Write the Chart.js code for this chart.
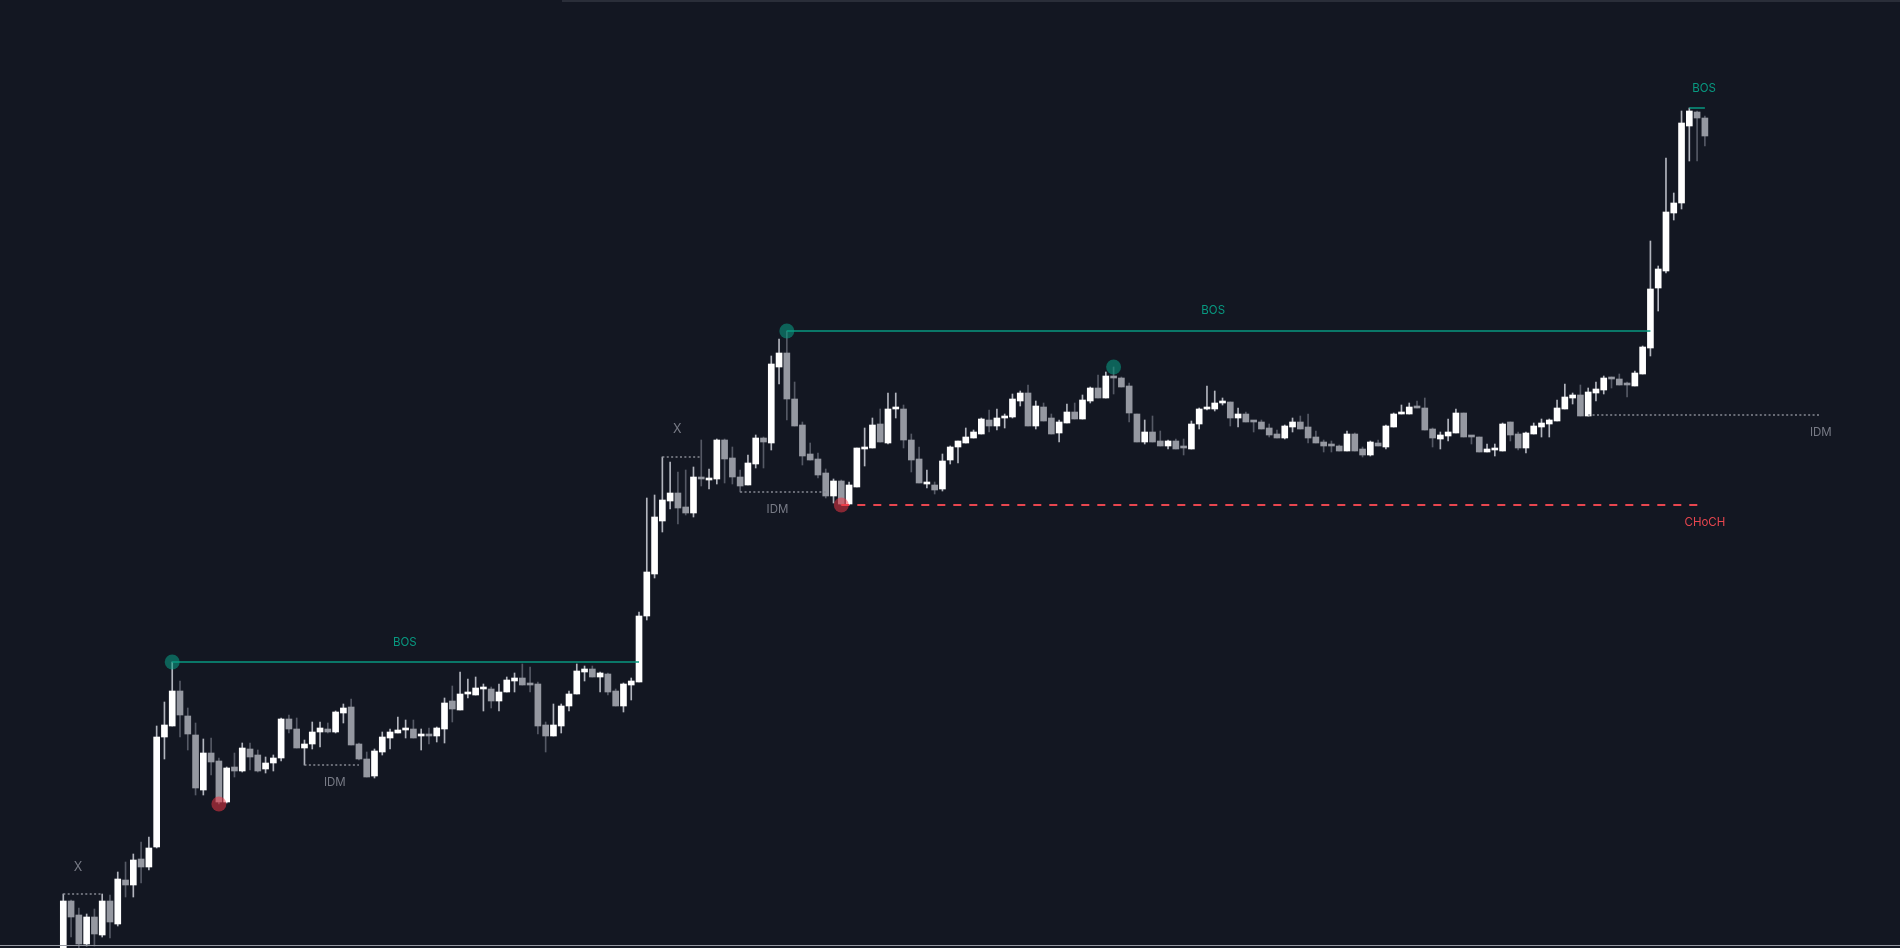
<!DOCTYPE html>
<html>
<head>
<meta charset="utf-8">
<title>Market structure</title>
<script src="https://cdn.jsdelivr.net/npm/chart.js@4.4.1/dist/chart.umd.min.js"></script>
<style>
  html, body { margin: 0; padding: 0; background: #131722; overflow: hidden; }
  #wrap { position: relative; width: 1900px; height: 948px; }
  #topLine { position: absolute; left: 562px; right: 0; top: 0; height: 2px; background: #2a2e39; }
  #bottomLine { position: absolute; left: 0; right: 0; top: 945px; height: 1px; background: #9598a1; }
</style>
</head>
<body>
<div id="wrap">
  <canvas id="chart" width="1900" height="948"></canvas>
  <div id="topLine"></div>
  <div id="bottomLine"></div>
</div>
<script>
// Candle data, one entry per bar (left to right)
const opens = [
  45, 99, 85, 56, 83, 65, 99, 76, 120, 115,
  141, 133, 153, 263, 274, 309, 284, 265, 210, 247,
  239, 198, 233, 229, 251, 245, 231, 237, 242, 281,
  271, 252, 256, 268, 271, 268, 287, 293, 256, 241,
  224, 248, 262, 267, 270, 271, 264, 265, 264, 271,
  299, 290, 306, 305, 311, 311, 299, 308, 319, 322,
  317, 316, 275, 264, 274, 294, 306, 328, 331, 323,
  326, 309, 294, 315, 318, 384, 426, 479, 499, 507,
  493, 487, 522, 520, 521, 560, 542, 523, 515, 536,
  562, 557, 633, 647, 601, 575, 546, 541, 527, 504,
  519, 496, 513, 551, 552, 576, 557, 591, 591, 560,
  541, 516, 515, 511, 540, 553, 557, 562, 566, 580,
  574, 582, 583, 599, 607, 574, 593, 582, 567, 577,
  588, 581, 599, 612, 602, 624, 622, 614, 586, 558,
  568, 559, 554, 559, 553, 551, 576, 591, 591, 597,
  598, 582, 586, 579, 578, 572, 566, 562, 573, 578,
  573, 563, 558, 556, 554, 549, 566, 551, 545, 557,
  553, 573, 586, 586, 594, 592, 571, 561, 564, 567,
  587, 564, 563, 548, 550, 549, 578, 566, 552, 566,
  573, 576, 579, 591, 602, 605, 584, 607, 610, 622,
  621, 617, 614, 626, 652, 712, 729, 787, 797, 874,
  888, 882
];
const highs = [
  106, 100, 92, 86, 91, 106, 105, 128, 138, 146,
  158, 163, 274, 298, 338, 319, 292, 277, 261, 262,
  242, 233, 247, 257, 257, 250, 243, 245, 282, 285,
  282, 260, 278, 278, 277, 289, 296, 301, 257, 248,
  251, 268, 271, 283, 280, 280, 271, 272, 273, 302,
  314, 328, 321, 323, 316, 313, 316, 323, 327, 336,
  333, 318, 278, 296, 296, 309, 336, 334, 334, 328,
  327, 311, 317, 322, 388, 502, 505, 543, 538, 528,
  530, 533, 560, 531, 561, 561, 553, 530, 545, 565,
  563, 644, 661, 669, 618, 578, 557, 547, 531, 521,
  520, 518, 552, 572, 582, 591, 607, 607, 595, 566,
  553, 530, 518, 546, 554, 559, 572, 570, 582, 590,
  591, 586, 606, 609, 615, 599, 597, 586, 580, 596,
  597, 605, 613, 625, 628, 633, 623, 617, 586, 580,
  584, 569, 560, 561, 561, 579, 592, 614, 609, 602,
  598, 592, 588, 579, 580, 576, 570, 575, 582, 584,
  586, 569, 560, 559, 555, 569, 567, 553, 559, 560,
  575, 587, 595, 597, 599, 602, 572, 568, 581, 591,
  587, 564, 563, 556, 556, 577, 578, 568, 568, 577,
  581, 581, 600, 616, 607, 615, 612, 618, 624, 623,
  626, 618, 629, 654, 759, 734, 842, 807, 889, 892,
  889, 884
];
const lows = [
  35, 63, 50, 54, 54, 63, 62, 74, 103, 103,
  117, 130, 152, 241, 274, 263, 250, 205, 205, 225,
  196, 197, 223, 228, 230, 228, 227, 229, 239, 267,
  252, 235, 251, 253, 267, 267, 277, 255, 240, 223,
  222, 245, 251, 267, 262, 262, 250, 256, 258, 257,
  278, 290, 302, 305, 289, 292, 289, 308, 308, 315,
  308, 266, 248, 264, 267, 289, 306, 319, 323, 308,
  305, 294, 288, 300, 318, 380, 422, 468, 491, 476,
  485, 483, 514, 511, 516, 517, 516, 508, 515, 532,
  532, 550, 616, 580, 574, 535, 540, 522, 502, 497,
  495, 495, 513, 534, 552, 558, 556, 582, 552, 528,
  517, 512, 506, 509, 536, 537, 557, 562, 566, 568,
  570, 572, 582, 594, 574, 571, 579, 566, 558, 577,
  581, 581, 597, 602, 602, 606, 613, 578, 558, 556,
  558, 554, 551, 551, 545, 551, 571, 590, 589, 595,
  574, 573, 578, 568, 571, 563, 562, 561, 568, 571,
  557, 557, 548, 548, 549, 549, 549, 543, 544, 554,
  551, 573, 586, 586, 592, 570, 553, 551, 559, 567,
  563, 556, 548, 548, 544, 549, 559, 550, 547, 566,
  563, 563, 579, 591, 596, 584, 584, 599, 606, 612,
  615, 603, 614, 626, 644, 689, 727, 780, 791, 839,
  839, 854
];
const closes = [
  99, 83, 56, 83, 66, 99, 78, 121, 115, 140,
  133, 152, 263, 275, 309, 285, 266, 212, 247, 238,
  198, 232, 229, 252, 243, 229, 237, 242, 281, 271,
  252, 256, 268, 272, 268, 288, 292, 255, 241, 223,
  249, 263, 268, 270, 272, 262, 265, 264, 272, 297,
  291, 306, 307, 312, 312, 299, 308, 320, 322, 315,
  315, 274, 264, 275, 294, 306, 329, 331, 323, 327,
  308, 294, 316, 319, 384, 428, 483, 500, 507, 492,
  487, 523, 521, 521, 560, 541, 523, 514, 537, 562,
  558, 636, 647, 601, 574, 544, 540, 525, 504, 519,
  496, 515, 552, 553, 575, 558, 591, 592, 560, 540,
  517, 517, 510, 539, 553, 559, 563, 568, 581, 574,
  582, 584, 601, 607, 574, 594, 579, 566, 578, 588,
  581, 600, 612, 602, 624, 622, 613, 587, 558, 568,
  558, 554, 559, 551, 552, 576, 591, 592, 597, 598,
  582, 586, 578, 578, 571, 565, 562, 574, 578, 571,
  562, 557, 554, 554, 549, 566, 549, 545, 558, 554,
  574, 586, 588, 593, 592, 570, 562, 565, 568, 587,
  563, 563, 548, 551, 552, 576, 565, 552, 567, 574,
  577, 580, 592, 603, 605, 584, 608, 611, 622, 621,
  615, 615, 627, 653, 711, 731, 788, 797, 877, 889,
  882, 864
];

// Structure levels (bar index from / to, price)
const bosLevels = [338, 669, 892];
const bosStart = [14, 93, 209];
const bosEnd = [74, 204, 211];

const idmLevels = [235, 508, 585];
const idmStart = [31, 87, 196];
const idmEnd = [38, 98, 225.8];

const xLevels = [106, 543];
const xStart = [0, 77];
const xEnd = [5, 82];

const chochLevel = 495;
const chochStart = 100;
const chochEnd = 211;

// Swing points
const swingHighIdx = [14, 93, 135];
const swingHighPrice = [338, 669, 633];
const swingLowIdx = [20, 100];
const swingLowPrice = [196, 495];

// Text labels
const labelText = ["BOS", "BOS", "BOS", "IDM", "IDM", "IDM", "X", "X", "CHoCH"];
const labelIdx = [43.9, 147.8, 210.9, 34.9, 91.8, 225.9, 1.9, 78.9, 211];
const labelPrice = [357, 689, 911, 217, 490, 567, 133, 571, 477];

const labelColors = { BOS: "#089981", IDM: "#787b86", X: "#787b86", CHoCH: "#e8464f" };

const isUp = i => closes[i] >= opens[i];
const candleIdx = opens.map((_, i) => i);

function levelLine(from, to, level) {
  return [{ x: from, y: level }, { x: to, y: level }];
}

const datasets = [];

// wicks
datasets.push({
  type: "bar",
  data: candleIdx.map(i => ({ x: i, y: [lows[i], highs[i]] })),
  backgroundColor: ctx => isUp(ctx.dataIndex) ? "#b2b5be" : "#555965",
  barThickness: 1,
  grouped: false,
  order: 4
});

// bodies
datasets.push({
  type: "bar",
  data: candleIdx.map(i => ({ x: i, y: [opens[i], closes[i]] })),
  backgroundColor: ctx => isUp(ctx.dataIndex) ? "#ffffff" : "#9598a1",
  barThickness: 6,
  minBarLength: 2,
  grouped: false,
  order: 3
});

bosLevels.forEach((lvl, i) => {
  datasets.push({
    type: "line",
    data: levelLine(bosStart[i], bosEnd[i], lvl),
    borderColor: "#089981",
    borderWidth: 1.5,
    pointRadius: 0,
    order: 2
  });
});

idmLevels.forEach((lvl, i) => {
  datasets.push({
    type: "line",
    data: levelLine(idmStart[i], idmEnd[i], lvl),
    borderColor: "#868993",
    borderWidth: 1.5,
    borderDash: [2, 2.4],
    pointRadius: 0,
    order: 2
  });
});

xLevels.forEach((lvl, i) => {
  datasets.push({
    type: "line",
    data: levelLine(xStart[i], xEnd[i], lvl),
    borderColor: "#868993",
    borderWidth: 1.5,
    borderDash: [2, 2.4],
    pointRadius: 0,
    order: 2
  });
});

datasets.push({
  type: "line",
  data: levelLine(chochStart, chochEnd, chochLevel),
  borderColor: "#e8464f",
  borderWidth: 2,
  borderDash: [8, 8],
  pointRadius: 0,
  order: 2
});

datasets.push({
  type: "scatter",
  data: swingHighIdx.map((x, i) => ({ x: x, y: swingHighPrice[i] })),
  backgroundColor: "rgba(8,153,129,0.58)",
  borderWidth: 0,
  pointRadius: 7.5,
  order: 1
});

datasets.push({
  type: "scatter",
  data: swingLowIdx.map((x, i) => ({ x: x, y: swingLowPrice[i] })),
  backgroundColor: "rgba(242,54,69,0.52)",
  borderWidth: 0,
  pointRadius: 7.5,
  order: 1
});

// draws the BOS / IDM / X / CHoCH texts
const structureLabels = {
  id: "structureLabels",
  afterDatasetsDraw(chart) {
    const { ctx, scales: { x, y } } = chart;
    ctx.save();
    ctx.textAlign = "center";
    ctx.textBaseline = "middle";
    labelText.forEach((t, i) => {
      ctx.font = (t === "X" ? "12.5px" : "11.5px") + " Inter, 'Noto Sans', sans-serif";
      ctx.fillStyle = labelColors[t];
      ctx.fillText(t, x.getPixelForValue(labelIdx[i]), y.getPixelForValue(labelPrice[i]));
    });
    ctx.restore();
  }
};

new Chart(document.getElementById("chart"), {
  type: "bar",
  data: { datasets: datasets },
  options: {
    responsive: false,
    animation: false,
    devicePixelRatio: 1,
    events: [],
    layout: { padding: 0, autoPadding: false },
    plugins: {
      legend: { display: false },
      tooltip: { enabled: false }
    },
    scales: {
      x: { type: "linear", min: -8.136, max: 236.08, offset: false, display: false },
      y: { type: "linear", min: 52, max: 1000, display: false }
    }
  },
  plugins: [structureLabels]
});
</script>
</body>
</html>
